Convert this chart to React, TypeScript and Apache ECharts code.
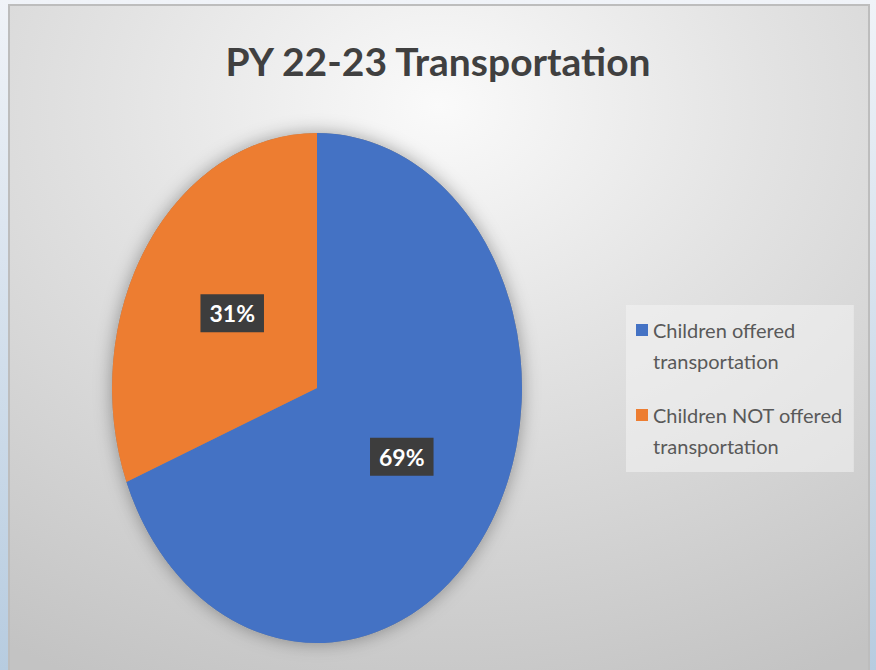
import React, { useEffect, useRef } from "react";
import * as echarts from "echarts";

const TITLE = "PY 22-23 Transportation";
const categories = ["Children offered transportation", "Children NOT offered transportation"];
const values = [69, 31];
const colors = ["#4472C4", "#ED7D31"];

const FONT = "Lato, 'Open Sans', sans-serif";

export default function App() {
  const ref = useRef<HTMLDivElement>(null);
  useEffect(() => {
    if (!ref.current) return;
    const chart = echarts.init(ref.current, undefined, { renderer: "svg" });
    const total = values.reduce((a, b) => a + b, 0);
    const cx = 317, cy = 388, rx = 205, ry = 255;

    const series = categories.map((name, si) => ({
      type: "custom",
      name,
      coordinateSystem: "none",
      data: [{ value: values[si], name }],
      itemStyle: { color: colors[si] },
      renderItem: (params: any, api: any) => {
        const v = api.value(0);
        const before = values.slice(0, params.seriesIndex).reduce((a, b) => a + b, 0);
        const a0 = -Math.PI / 2 + (before / total) * Math.PI * 2;
        const a1 = a0 + (v / total) * Math.PI * 2;
        const mid = (a0 + a1) / 2;
        return {
          type: "group",
          children: [
            {
              type: "sector",
              x: cx,
              y: cy,
              scaleY: ry / rx,
              shape: { cx: 0, cy: 0, r: rx, r0: 0, startAngle: a0, endAngle: a1, clockwise: true },
              style: { fill: api.visual("color") },
            },
            {
              type: "text",
              x: cx + 0.5 * rx * Math.cos(mid),
              y: cy + 0.5 * ry * Math.sin(mid) - 3,
              z2: 20,
              style: {
                text: Math.round((v / total) * 100) + "%",
                fill: "#ffffff",
                font: `bold 23px ${FONT}`,
                align: "center",
                verticalAlign: "middle",
                backgroundColor: "#3d3d3d",
                padding: [8, 9, 7, 9],
                boxShadowBlur: 6,
                boxShadowColor: "rgba(0,0,0,0.55)",
                boxShadowOffsetX: 3,
                boxShadowOffsetY: 4,
              },
            },
          ],
        };
      },
    }));

    chart.setOption({
      animation: false,
      backgroundColor: {
        type: "linear", x: 0, y: 0, x2: 0, y2: 1,
        colorStops: [
          { offset: 0, color: "#f0f3f8" },
          { offset: 1, color: "#b7cce0" },
        ],
      },
      title: {
        text: TITLE,
        left: "center",
        top: 36,
        textStyle: { fontFamily: FONT, fontWeight: "bold", fontSize: 39, color: "#404040" },
      },
      graphic: [
        {
          type: "rect",
          z: -10,
          shape: { x: 9, y: 5, width: 860, height: 670 },
          style: {
            fill: {
              type: "radial", x: 0.5, y: 0.15, r: 0.95,
              colorStops: [
                { offset: 0, color: "#fafafa" },
                { offset: 0.4, color: "#e3e3e3" },
                { offset: 1, color: "#c3c3c3" },
              ],
            },
            stroke: "#bdbdbd",
            lineWidth: 2,
          },
        },
        {
          type: "ellipse",
          z: -5,
          shape: { cx: 317, cy: 388, rx: 205, ry: 255 },
          style: { fill: "#888", shadowBlur: 18, shadowColor: "rgba(0,0,0,0.35)" },
        },
      ],
      legend: {
        orient: "vertical",
        left: 626,
        top: 305,
        padding: [9, 11, 11, 10],
        itemGap: 23,
        itemWidth: 12,
        itemHeight: 60,
        icon: "path://M0,0 M0,9h12v12h-12z M12,60",
        backgroundColor: "rgba(244,244,244,0.55)",
        formatter: (n: string) => n.replace(" transportation", "\ntransportation"),
        textStyle: { fontFamily: FONT, fontSize: 20, lineHeight: 31, color: "#595959" },
        data: categories,
      },
      series,
    });
    return () => chart.dispose();
  }, []);
  return <div ref={ref} style={{ position: "fixed", left: 0, top: 0, width: 876, height: 670 }} />;
}
